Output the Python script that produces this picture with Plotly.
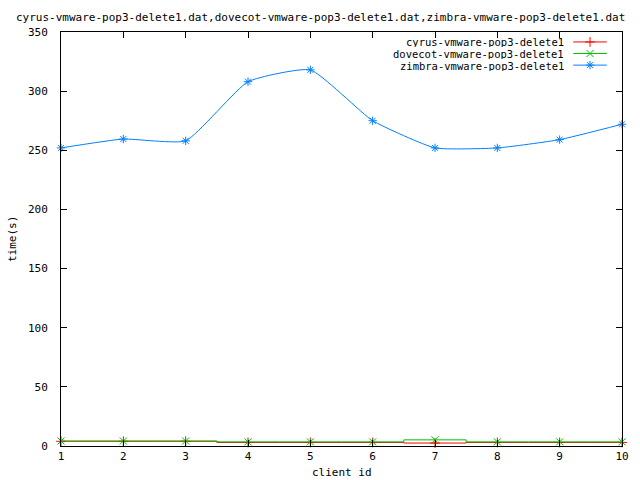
import plotly.graph_objects as go

client_ids = [1, 2, 3, 4, 5, 6, 7, 8, 9, 10]
cyrus = [4, 4, 4, 3, 3, 3, 2.5, 3, 3, 3]
dovecot = [4.2, 4.2, 4.2, 3.5, 3.5, 3.5, 5.2, 3.5, 3.5, 3.5]
zimbra = [252, 259.5, 258, 308, 318, 275, 252, 252, 259, 272]

names = ["cyrus-vmware-pop3-delete1", "dovecot-vmware-pop3-delete1", "zimbra-vmware-pop3-delete1"]
colors = ["#ff0000", "#00c000", "#0080ff"]
symbols = ["cross-thin-open", "x-thin-open", "asterisk-open"]
shapes = ["hvh", "hvh", "spline"]
series = [cyrus, dovecot, zimbra]
title = "cyrus-vmware-pop3-delete1.dat,dovecot-vmware-pop3-delete1.dat,zimbra-vmware-pop3-delete1.dat"

FONT = "DejaVu Sans Mono"
fig = go.Figure()
for name, ys, c, s, sh in zip(names, series, colors, symbols, shapes):
    fig.add_trace(go.Scatter(
        x=client_ids, y=ys, mode="lines+markers", name=name,
        line=dict(color=c, width=1, shape=sh, smoothing=0.45),
        marker=dict(symbol=s, size=7, color=c, line=dict(color=c, width=1)),
        showlegend=False, cliponaxis=False))

# custom legend (gnuplot style: text right, sample on right)
leg_y = [0.976, 0.948, 0.920]
for i, (name, c, s) in enumerate(zip(names, colors, symbols)):
    fig.add_trace(go.Scatter(
        x=[0.913, 0.943, 0.973], y=[leg_y[i]] * 3, xaxis="x2", yaxis="y2",
        mode="lines", line=dict(color=c, width=1), showlegend=False, hoverinfo="skip"))
    fig.add_trace(go.Scatter(
        x=[0.943], y=[leg_y[i]], xaxis="x2", yaxis="y2", mode="markers",
        marker=dict(symbol=s, size=7, color=c, line=dict(color=c, width=1)),
        showlegend=False, hoverinfo="skip"))
    fig.add_annotation(x=0.899, y=leg_y[i], xref="x2", yref="y2", text=name,
                       showarrow=False, xanchor="right", yanchor="middle",
                       height=11, borderpad=0,
                       font=dict(family=FONT, size=10.5, color="black"))

axis_common = dict(showline=True, linecolor="black", linewidth=1, mirror="allticks",
                   ticks="inside", ticklen=6, tickcolor="black", showgrid=False,
                   zeroline=False, tickfont=dict(family=FONT, size=11, color="black"))
fig.update_layout(
    width=640, height=480, plot_bgcolor="white", paper_bgcolor="white",
    margin=dict(l=61, r=18, t=32, b=34),
    xaxis=dict(range=[1, 10], tickvals=client_ids, **axis_common),
    yaxis=dict(range=[0, 350], tickvals=list(range(0, 351, 50)), ticklabelstandoff=10, **axis_common),
    xaxis2=dict(range=[0, 1], overlaying="x", visible=False, domain=[0, 1]),
    yaxis2=dict(range=[0, 1], overlaying="y", visible=False),
    showlegend=False,
)
fig.add_annotation(xref="paper", yref="paper", x=-47/561, y=1 + 15/414, text=title, showarrow=False,
                   font=dict(family=FONT, size=11, color="black"), xanchor="left", yanchor="middle")
fig.add_annotation(xref="paper", yref="paper", x=0.5, y=-26/414, text="client id", showarrow=False,
                   font=dict(family=FONT, size=11, color="black"), xanchor="center", yanchor="middle")
fig.add_annotation(xref="paper", yref="paper", x=-49/561, y=0.5, text="time(s)", showarrow=False,
                   textangle=-90, font=dict(family=FONT, size=11, color="black"),
                   xanchor="center", yanchor="middle")
fig.write_html("out.html", config={"displayModeBar": False},
               post_script="document.body.style.margin='0';document.body.style.overflow='hidden';")
